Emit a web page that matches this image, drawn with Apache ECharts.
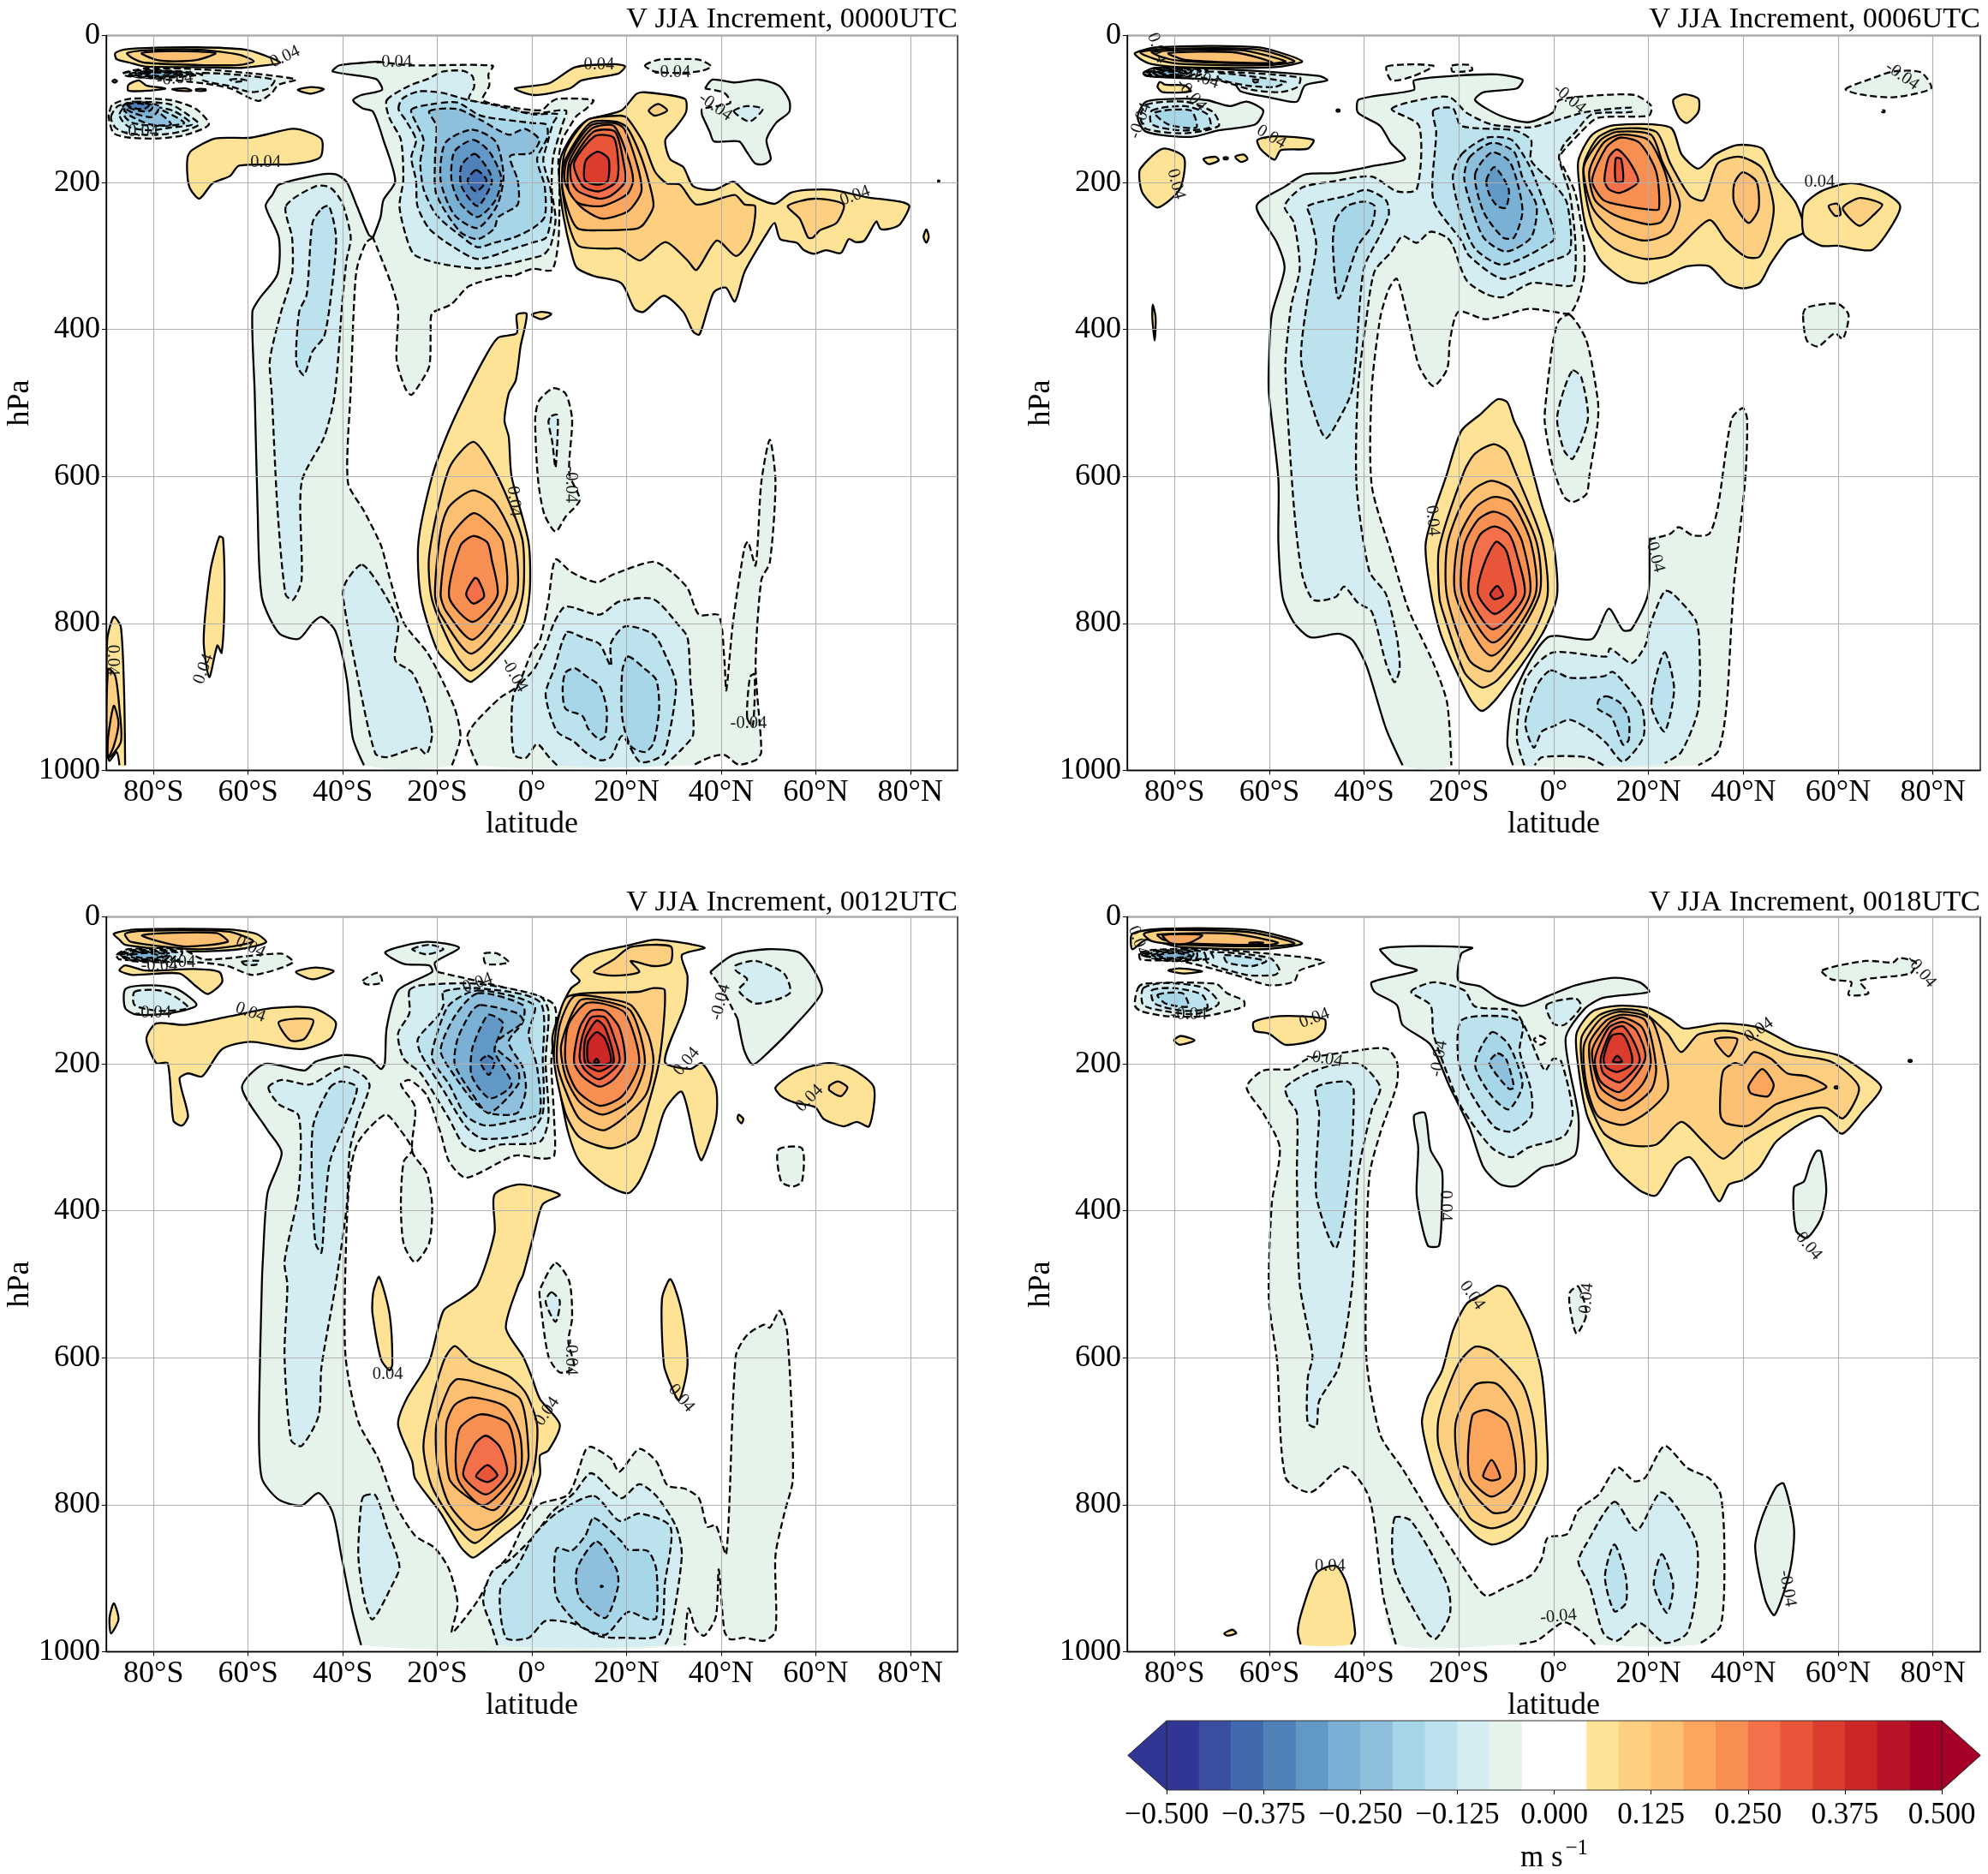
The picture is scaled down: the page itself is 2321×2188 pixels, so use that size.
<!DOCTYPE html>
<html><head><meta charset="utf-8">
<style>html,body{margin:0;padding:0;background:#fff}#c{width:2321px;height:2188px}</style>
<script src="https://cdn.jsdelivr.net/npm/echarts@6/dist/echarts.min.js"></script>
</head><body><div id="c"></div>
<script>
const titles=['V JJA Increment, 0000UTC','V JJA Increment, 0006UTC','V JJA Increment, 0012UTC','V JJA Increment, 0018UTC'];
const latTicks=[-80,-60,-40,-20,0,20,40,60,80];
const negColors=['#ffffff','#e5f3eb','#d3edf3','#bce2ee','#a6d6e8','#8ec0de','#7ab0d3','#6298c6','#4f81b8','#4169ad','#3a4f9f','#313695'];
const posColors=['#ffffff','#fee397','#fdd081','#fdbf71','#fca55d','#f88f52','#f3704a','#e95538','#dc3c2d','#cc2627','#b61326','#a50026'];
const cbLevels=[-0.5,-0.4583,-0.4167,-0.375,-0.3333,-0.2917,-0.25,-0.2083,-0.1667,-0.125,-0.0833,-0.0417,0.0417,0.0833,0.125,0.1667,0.2083,0.25,0.2917,0.3333,0.375,0.4167,0.4583,0.5];
const cbColors=['#313695','#3a4f9f','#4169ad','#4f81b8','#6298c6','#7ab0d3','#8ec0de','#a6d6e8','#bce2ee','#d3edf3','#e5f3eb','#ffffff','#fee397','#fdd081','#fdbf71','#fca55d','#f88f52','#f3704a','#e95538','#dc3c2d','#cc2627','#b61326','#a50026'];

// contour rings: [level, latitude/hPa pairs] or [level, solid-drawn pairs, dashed-drawn pairs]
const contoursA=[
[-1,[-35.5,993,-37.9,955,-39.1,877,-41.5,811,-44.5,791,-46.3,799,-49.3,821,-53.5,813,-57.1,764,-58,643,-58.6,487,-59.1,376,-57.6,358,-53.8,325,-53.5,275,-56.3,232,-54.8,216,-53.5,203,-44.5,189,-41.4,189,-39.2,199,-37,232,-34.5,271,-33.6,275],[-35.1,282,-37,317,-37.6,364,-38.3,481,-38.9,608,-35.5,647,-31.9,694,-30.1,737,-27.1,799,-22.3,838,-19.9,865,-16.3,916,-15.1,955,-16.9,993]],
[-1,[-33.6,275,-32,247,-31.4,224,-28.9,198,-31.4,142,-33.6,103.5,-35.8,99,-37.8,88,-36.1,81,-31.7,74,-33,59,-42.1,49,-40.7,40.5,-35.7,37,-32.6,35.4],[-25.8,40.5,-8.3,41,-9.2,53,-9,68,-10.4,88,-3.9,98,2,101.6,3.9,91,5.5,86,13,88,11.4,100,9.5,109,7.7,127,6.4,142,5.6,170,5.8,200,5.8,247,5.5,286,4.2,319,0,317.5,-3.9,327,-5.9,327,-13.3,341,-17.1,366,-21.1,378,-21.4,403,-21.7,450,-24,477,-25.5,489,-26.7,481,-28.6,442,-28.3,372,-29.8,337]],
[-2,[-30.7,88,-25.8,68,-22,59,-18.9,49,-14.6,48,-12.6,55,-12.2,70,-13.3,86,-8,96,-3,103,1,106,7.2,102,6.5,120,4.5,165,4.2,210,5,250,4,285,2.5,298,0,303,-6,312,-11.5,317,-19.6,310,-24.9,298,-26.7,271,-28,232,-27.2,197,-27.7,142,-30.2,111]],
[-3,[-28.2,100,-27.4,86,-24,76,-19,78,-13.3,88,-7,96,0,107,5.5,107,4.5,119,3.3,146,2.4,170,3.9,208,4.2,240,3,275,0,282,-3.9,290,-11.5,304,-17,286,-21.7,263,-24.2,232,-24.5,197,-25.5,166,-24.5,142,-26.7,115]],
[-4,[-25.5,101,-21.7,94,-15.8,91,-10.8,109,0,119,3,121,3.3,138,1.1,168,2.7,205,2.7,247,0,263,-3.9,275,-8,282,-11.5,288,-14.6,275,-20.2,244,-22.9,209,-23.6,173,-22.9,142,-24.5,119]],
[-5,[-21.7,103,-15.8,100,-10.8,115,-4.9,135,-1.5,127,1.6,142,-0.2,160,-4.6,164,-3,197,-3,230,-7.1,247,-8,263,-11.5,277,-15.2,267,-20.2,216,-20.5,170,-20.2,123]],
[-6,[-12.7,128,-7.7,144,-6,191,-7.4,232,-11.5,262,-16.4,244,-19.3,197,-18.3,146]],
[-7,[-12.4,142,-9,158,-6.5,193,-7.7,224,-11.5,247,-15.2,228,-17,197,-16.4,158]],
[-8,[-12.1,161,-9,185,-8.5,201,-11.5,232,-14.9,205,-14.9,177]],
[-9,[-11.8,183,-9.6,197,-11.8,212,-13.6,197]],
[1,[6.1,166,8.6,135,11.7,115,18.9,102,22,80,23.5,77,32.3,86,32.6,104,30.4,125,28.2,142,29.2,168,32,179,34.1,205,38.5,210,42.6,199,45.4,214,51.3,229,54.7,214,58.4,210,63.4,210,70.9,220,77.8,226,79.8,232,77.8,257,75.6,263,73.7,263,72.8,253,70.3,279,68.4,281,67,277,65.3,296,62.2,292,59.7,297,57.5,292,56,282,52.5,277,51.3,255,49.7,269,45,321,42.9,362,41,343,38.5,349,37,376,35.4,407,34.1,403,32,376,27.9,354,23.6,376,21.7,372,18.9,337,13,327,9.5,316,8.3,294,6.7,247,5.8,201]],
[2,[7,158,11.7,115,18.6,109,20.1,112,23.6,146,26,185,28.5,201,31.3,203,34.8,230,42.9,217,45,230,47.2,232,46.3,275,43.2,300,39.1,279,34.8,319,32.9,306,28.2,281,22.9,306,18.6,290,15.5,290,9.8,286,7.7,255,6.4,205]],
[2,[24.7,102,26.7,93,28.6,102,26,109]],
[2,[54.1,232,59.7,222,65.9,230,64.4,255,60.9,265,59.4,275,58.4,275,56.6,249]],
[3,[7,170,12.3,119,17.6,117,20.1,125,22.9,162,24.8,201,25.7,232,23.6,257,22,263,14.8,265,9.8,263,8,244,6.4,205]],
[4,[7.4,170,12.3,123,17.3,119,19.5,127,22.3,177,23.2,209,22.3,224,20.1,240,14.8,249,10.2,232,7,200]],
[5,[8,170,12.6,127,17.3,123,20.1,162,21.4,197,20.1,216,14.8,232,9.8,228,7.7,209]],
[6,[8.3,174,13,131,17.6,131,19.5,177,19.7,199,16.7,218,14.2,222,9.8,212,8.3,197]],
[7,[8.9,174,13.3,137,17.3,139,18.3,177,17.8,199,14.2,212,10.8,205]],
[8,[11.4,170,13.9,158,16.2,168,16,198,13.9,203,11.2,197]],
[1,[-3.6,72,3.6,65,9.2,43,17.3,39,19.7,42,18.2,52,10.5,61,8,72,0.5,81]],
[-1,[23.9,41,26.7,33,31,32,35.4,33,37.9,42,36,48,31,51,26,49]],
[-1,[36.6,72,38.2,60,42.9,64,47.9,60,52.2,68,54.4,88,54.4,104,51.6,119,49.6,142,50.5,168,49.1,175,47.2,174,45.4,158,43.8,144,38.5,144,37.6,131,36,109],[36,100,41.9,92,40.7,78]],
[-2,[42.7,103,45.4,96,48.8,100,46,117]],
[1,[83.4,264,83.9,274,83.4,282,82.8,274]],
[1,[85.9,197,86.2,198,85.9,199]],
[1,[-88.1,24,-86.2,19,-81.9,17,-70.7,16,-60.7,19,-56.9,26,-53.2,37,-56.9,41,-61.3,44,-70.7,43,-81.9,42,-85,37,-87.8,32]],
[2,[-85.6,24,-81.2,20,-70.7,19,-61.9,26,-58.8,35,-61.9,40,-70.7,40,-81.9,37,-84.4,31]],
[3,[-82.5,24,-75.6,21,-66.9,24,-70.7,33,-75.6,35,-79.4,33]],
[1,[-85.3,67,-83.1,61,-81.5,68,-77.5,72,-80.9,75,-85.3,75]],
[1,[-88.2,60,-87.7,62,-88.2,64,-88.7,62]],
[1,[-76,73,-73,72,-72,75,-75,75]],
[1,[-71,73,-69,73,-69,75,-71,75]],
[1,[-49.5,74,-46.7,70,-44,73,-46.7,79]],
[-1,[-86.5,51,-81.9,45,-69.5,46,-57,53,-49.9,60,-53.6,67,-55,78,-57.9,89,-63.8,72,-69.5,65,-78.8,59,-85.7,55]],
[-2,[-69.5,51,-54.5,60,-55.7,72,-59.4,77,-63.8,69,-69.5,61]],
[-3,[-63.8,60,-62,59,-60.4,61,-62.6,63]],
[-2,[-86.2,51,-81.9,47,-73.7,49,-70,53,-78.8,58,-85,55]],
[-3,[-85,52,-81,48,-75,49.5,-71.5,53,-79,57,-84.5,54.5]],
[-4,[-84,52,-80,49,-75,50,-72.5,53,-79,56,-84,54]],
[-5,[-83,52,-79.5,50,-76,51,-74,53,-79,55.5]],
[-6,[-82,52,-79,50.5,-76,51.5,-75,53,-79,55]],
[-1,[-89.3,103.5,-88.7,94,-85,86,-76.3,88,-71,100,-68.3,121,-73.1,135,-78.8,140,-85,139,-88.4,133,-89.5,111]],
[-2,[-89,111,-87.5,96,-83.1,90,-76.3,94,-72.9,107,-70.4,121,-74.4,131,-79.4,135,-85.6,133,-88.1,125]],
[-3,[-87.2,107,-85.6,94,-80.6,96,-75.6,103,-71.9,121,-76.3,125,-80.6,129,-85,125,-86.5,117]],
[-4,[-86.2,103.5,-83.7,94,-78.8,100,-73.5,119,-79.4,123,-84.4,119,-86,111]],
[-5,[-86.2,100,-82.5,92,-78.8,105,-76.3,121,-80.6,121,-85,109]],
[-6,[-86.5,96,-84.4,90,-78.8,96,-80.3,111,-84.4,105]],
[-7,[-86,95,-84,91,-80,95,-81,103,-84,101]],
[-8,[-85.5,95,-84,92,-81,95,-82,100,-84,99]],
[1,[-72.8,166,-71.9,156,-66.9,140,-59.4,139,-50.7,127,-47,132,-44.4,142,-44.8,166,-50.7,175,-61.9,177,-63.8,191,-67.5,201,-70.3,222,-72.2,209,-72.8,193]],
[-2,[-52,232,-45.7,205,-42.6,207,-40.1,228,-38.3,275,-39.2,306,-40.1,364,-41.7,489,-43.9,546,-48.7,608,-48.7,741,-50.5,768,-52.1,760,-53.8,643,-55,487,-55.4,442,-53.2,380,-50.7,325,-50.7,275]],
[-3,[-44.5,236,-42.9,232,-41.4,275,-42.3,345,-43.9,409,-46.4,430,-48.2,462,-49.8,446,-49.2,376,-47.6,352,-46.4,255]],
[-2,[-35.9,720,-31.9,752,-28.3,799,-28.9,850,-25.3,867,-22.3,912,-21.1,951,-22.3,978,-24.1,969,-30.7,982,-33.1,977,-36.7,877,-40,760,-39.1,741]],
[1,[-66.1,682,-65.3,684,-65,768,-65.6,840,-66.5,830,-68.2,873,-69.4,823,-68,729]],
[1,[-88.4,791,-86.9,805,-86.2,897,-86,993,-87.2,993,-87.8,975,-89.3,987,-89.8,975,-89.8,823]],
[2,[-89.6,862,-88.1,871,-87.2,916,-86.9,961,-89.6,982]],
[3,[-89.6,955,-88.4,912,-87.4,936,-88.4,967,-89.6,982]],
[1,[-3.2,380,-1.1,379,-2.4,423,-3.4,469,-4.9,487,-5.8,524,-4.9,546,-4.3,600,-0.7,690,-0.5,760,-2.2,807,-12.7,879,-16.3,862,-19.9,838,-23.5,764,-24,690,-21.1,600,-18.1,546,-14.5,495,-9.6,434,-7.1,411,-3.2,405]],
[1,[0,380,2,376,4.1,379,2,386]],
[2,[-12.4,553,-8.5,585,-4.3,643,-1.9,690,-1.9,760,-4.3,807,-12.7,864,-16.3,840,-21.1,768,-21.7,706,-17.5,589]],
[3,[-12.5,619,-7.9,635,-3.7,690,-3.4,764,-12.7,841,-19.3,788,-20.5,760,-19.3,674,-17.5,641]],
[4,[-12.4,650,-8.5,667,-6.1,690,-5.5,760,-12.5,822,-18.1,784,-19.3,760,-17.5,686]],
[5,[-12.4,681,-9.4,690,-8.5,713,-7.3,762,-12.5,798,-17.5,764,-15.1,694]],
[6,[-12.1,738,-11.3,741,-10.1,763,-12.4,773,-13.9,760]],
[-1,[4.5,480,7.1,487,8.5,522,7.9,596,10.1,632,7.1,655,5,675,2.6,651,1.3,604,0.7,522,1.5,497]],
[-2,[4.1,518,5.3,516,5.5,530,5,588,4.3,553,3.5,525]],
[-1,[5,713,8.3,730,13.7,744,17.3,733,25.7,716,29.3,729,32.9,752,35.3,788,39.5,789,40.7,850,41.1,891,42.5,799,44.9,698,45.7,689,47.3,721,48.5,608,50.3,550,51.5,608,50.3,717,48.5,741,47.3,858,48.5,975,47.3,986,43.7,992,40.7,979,37.7,982,34.1,993,-11.5,993,-13.7,955,-12.1,936,-6.7,901,-3.1,885,-0.1,840,1.7,823,3.5,768]],
[-1,[45.5,928,46.1,873,47.1,869,46.7,940]],
[-2,[7.1,777,14.3,788,18.5,770,25.7,767,31.1,803,32.9,819,33.5,877,34.1,951,31.7,971,28.1,993,5.3,993,3.5,981,1.1,964,-1.3,983,-3.7,979,-4.3,936,-3.7,893,0.5,862,2.9,830,4.7,799]],
[-3,[7.4,812,10.7,819,14.3,828,16.7,858,16.7,827,19.7,804,25.7,815,28.7,850,30.5,885,28.1,975,25.7,986,22.7,988,19.1,953,16.7,982,14.3,986,11.3,975,8.9,961,5.3,947,2.9,897,4.7,862]],
[-4,[7.1,867,9.1,861,11.3,871,14.3,885,15.8,916,15.5,953,14.3,958,11.9,943,10.7,926,7.1,916,6.5,889]],
[-4,[20.3,845,23.9,862,26.3,877,26.9,916,25.7,963,23.9,975,20.9,967,19.1,928,19.1,865]]
];
const labelsA=[[-52.2,29,'0.04',25],[-29.2,36,'-0.04',0],[14.2,40,'0.04',0],[29.7,50,'-0.04',0],[38.8,97,'-0.04',-35],[-75.5,59,'-0.04',5],[-82.8,131,'-0.04',0],[-56.3,173,'0.04',0],[68.3,218,'0.04',20],[-3.8,634,'0.04',-85],[8.3,611,'-0.04',-90],[-69.4,862,'0.04',70],[-88.7,850,'0.04',-90],[-3.8,870,'-0.04',-60],[45.8,936,'-0.04',0]];

const contoursB=[
[-1,[-31.9,993,-35.4,943,-39.5,858,-42.4,823,-45.4,814,-51.3,819,-54.8,799,-57.2,764,-58.1,690,-58.1,604,-60.1,487,-60.1,446,-59.5,380,-56.8,317,-58.4,282,-62.7,232,-56.6,205,-52.5,189,-46,187,-37.8,177,-31.4,168,-34.4,146,-36.6,123,-41.3,105,-41.1,87,-29.5,74,-29.5,61,-21.3,55,-11.9,53,-6.6,60,-7.8,72,-14.8,77,-16.6,88,-11.3,109,-5.4,118,-1.3,109,0,104],[1.1,88,8,82,17.1,81,20.6,96,20,109,9.3,112,5.8,131,1.1,166,2.2,181,4.6,216,6.4,286,6.4,325,5.2,358,3.4,378,0,376,-5.4,372,-14.2,386,-20.1,376,-21.9,415,-22.5,454,-25.4,477,-28.4,450,-30.7,388,-33.1,331,-34.8,345,-36.6,384,-38.4,481,-38.4,612,-34.2,706,-30.7,780,-25.4,854,-22.5,908,-21.6,993]],
[-1,[-35.2,42,-25.4,41,-29.5,55,-34.2,61]],
[-1,[-21.5,41,-17.8,40,-17.2,47,-21.3,49]],
[-2,[-34.2,100,-27.2,86,-21.9,84,-18.4,105,-13.1,121,-5,125,-1.3,119,6.9,104,16.4,98,16.4,104,8.1,107,4.6,131,2.2,148,1.1,166,3.4,216,4.6,286,4,339,0,339,-4.8,337,-10.7,356,-14.2,352,-18.4,333,-21.3,286,-22.5,275,-26,267,-28.9,282,-31.9,273,-34.2,294,-37.8,321,-39.5,384,-41.3,481,-41.6,612,-38.9,729,-35.4,760,-33.1,819,-32.5,862,-33.6,880,-35.4,854,-38.4,784,-41.3,772,-44.2,750,-46,764,-50.7,768,-53.1,733,-54.8,643,-56.4,487,-56.6,442,-55.4,368,-53.6,317,-54.8,255,-56.8,232,-53.1,207,-47.2,199,-38.4,192,-33.1,212,-28.9,209,-28.4,123]],
[-3,[-25.4,102,-21.3,99,-19.5,123,-8.4,129,-4.8,142,-4.8,170,-0.1,201,2.8,228,3.4,294,-1.3,308,-10.7,331,-17.8,300,-19.5,279,-25.4,224,-24.8,131]],
[-3,[-51.9,232,-43.6,218,-39.5,210,-35.4,224,-34.8,244,-36.6,271,-40.1,318,-42.5,481,-46,530,-48.1,548,-50.1,522,-53.3,442,-51.9,356,-50.1,286,-51.3,247]],
[-4,[-46,251,-43.6,232,-40.1,226,-37.8,232,-38.4,259,-41.3,286,-45.4,358,-46.6,286]],
[-4,[-19.5,162,-14.2,139,-8.9,142,-5.4,174,-3.1,209,-0.1,263,-0.1,279,-10.7,312,-16.6,290,-19.5,247,-21.3,193]],
[-5,[-17.8,166,-13.1,146,-8.4,158,-6.6,193,-3.6,232,-4.8,275,-10.1,294,-14.8,275,-17.8,224,-18.9,193]],
[-6,[-16.6,189,-13.1,159,-9.5,170,-7.8,197,-6.6,240,-8.4,275,-10.7,275,-14.8,240]],
[-7,[-14.2,197,-12.5,179,-9.5,209,-10.1,234,-11.9,232,-13.6,216]],
[1,[5.2,170,8.1,135,12.8,122,24.6,125,27,162,30.5,181,34,162,38.7,149,44,154,46.9,193,51.1,228,52.8,267,49.3,279,45.8,310,43.4,337,39.9,344,36.4,337,32.8,314,28.1,314,24,325,19.3,337,15.2,333,9.9,306,6.9,263,5.5,209]],
[1,[52.8,232,56.4,212,62.8,201,69.3,212,73.1,232,70.5,267,67,292,59.9,286,56.4,286,52.8,271]],
[2,[58,232,59.9,229,60.5,244,59.3,245]],
[2,[61,234,64.6,221,69.3,230,67.5,244,64.6,259,62.2,247]],
[2,[6.4,174,9.3,139,13.4,127,21.6,131,24.6,174,28.7,218,31.6,224,34.6,174,39.3,165,44,181,46.4,232,45.5,271,43.4,301,40.5,301,36.4,279,32.8,251,24.6,298,19.3,304,12.8,290,8.7,263,6.7,216]],
[3,[6.4,177,9.9,142,13.4,131,20.5,135,22.8,170,26.6,228,24.6,267,19.3,279,13.4,267,8.7,240,6.9,209]],
[3,[38.1,201,39.9,186,42.8,199,43.2,236,41.1,255,38.1,228]],
[4,[7.5,185,10.5,146,14,135,19.9,142,23.4,185,24.6,228,22.8,253,19.9,257,12.8,244,8.7,224]],
[5,[8.1,197,11.1,152,14,139,18.1,146,21.6,185,22.2,236,20.5,237,15.2,232,10.5,224]],
[6,[10.7,197,11.6,166,13.4,155,15.8,170,17.8,199,14,214,11.6,209]],
[7,[13.1,167,14.2,168,14.6,198,13.1,199]],
[1,[25.2,88,27.5,80,30.5,86,30.5,104,28.1,119,26.4,111]],
[-1,[61.6,73,66.9,59,71.6,49,77.5,50,79.6,72,71.6,84,64.6,80]],
[-1,[69.3,102,69.8,102,69.8,104,69.3,104]],
[-1,[52.6,380,53.4,370,59.9,365,62.2,380,61,413,59.3,405,55.8,423,53.4,415]],
[1,[-88.4,24,-83.6,16,-62.5,16,-53.1,35,-58.9,43,-78.9,43,-84.8,39,-87.2,32]],
[2,[-87.2,23,-81.3,18,-62.5,19,-54.7,35,-60,40,-77.8,39,-83.6,33]],
[2,[-84.8,22,-66,20,-56.6,35,-60,38,-77.8,35,-82.5,30]],
[3,[-81.3,24,-67.2,23,-59.5,37,-77.8,33]],
[-1,[-86.6,51,-84.2,44,-69.5,46,-49.5,55,-47.8,61,-52.5,68,-54.2,90,-60.1,84,-66,76,-67.8,63,-81.3,57,-86,55],[]],
[-2,[-73.1,49,-53.6,57,-54.1,70,-57.8,77,-63.6,74,-69.5,63,-75.4,55]],
[-3,[-70.7,51,-56.6,63,-58.9,70,-64.8,68,-70.7,59]],
[-4,[-63.6,60,-61.9,61,-63,64]],
[-2,[-86.6,51,-83.6,45,-73.1,47,-75.4,55,-84.8,56]],
[-3,[-86,51,-83.4,46,-74.5,48,-76.5,54,-84.5,55.5]],
[-4,[-85.4,51,-83.1,47,-76.6,49,-77.8,53,-84.2,55]],
[-5,[-84.5,51,-82,48,-77.5,50,-79,53,-83.5,54]],
[-6,[-83.6,51,-81.3,49,-78.4,51,-81.3,53]],
[1,[-83.1,63,-81.9,67,-77.8,68,-76.6,76,-82.5,77,-83.6,70]],
[-1,[-86,90,-78.9,86,-73.1,88,-68.4,96,-64.8,90,-61.3,102,-63,121,-70.7,129,-76.6,138,-86,131,-87.8,111],[]],
[-2,[-86,94,-77.8,90,-71.9,104,-70.7,123,-77.8,133,-86,127,-87.2,111]],
[-3,[-84.8,102,-77.8,96,-73.1,107,-72.5,125,-78.9,129,-84.8,121]],
[-4,[-84.2,105,-76.6,102,-75.4,125,-81.3,121]],
[1,[-62.5,142,-58.9,137,-50.7,142,-51.9,154,-57.6,156,-58.9,169,-61.9,154]],
[1,[-87.2,181,-82.5,154,-78,166,-78.9,209,-83.6,234,-86.6,216,-87.4,197]],
[1,[-73.9,168,-71.3,165,-70.7,170,-72.8,175]],
[1,[-67.2,165,-65.4,162,-64.6,168,-66,172]],
[1,[-69.6,166,-68.8,166,-68.8,168,-69.6,168]],
[1,[-45.8,101,-45.2,101,-45.2,103,-45.8,103]],
[1,[-84.6,366,-84,384,-84.2,415,-84.7,384]],
[1,[-11.9,495,-9.8,499,-8.4,524,-6.2,554,-2.5,639,-0.1,690,0.7,762,-2.5,815,-11.9,901,-15.2,919,-17.8,901,-23.6,819,-25.8,762,-27,690,-22.5,596,-19.5,538,-15.4,515]],
[2,[-12.7,556,-10.1,565,-8.4,589,-2.5,686,-1.3,762,-4.8,819,-11.9,877,-15.2,887,-18.9,866,-23.6,780,-24.2,760,-24.2,698,-18.9,593,-16.6,569]],
[3,[-13.1,606,-8.9,618,-3.6,690,-3.1,762,-13.1,864,-17.8,850,-22.5,764,-22.5,694,-19.5,639,-16.6,616]],
[4,[-12.8,628,-8.9,635,-4.8,690,-3.9,762,-13.1,844,-20.7,762,-20.1,686,-16.6,643]],
[5,[-12.8,648,-9.5,657,-6.6,690,-5.1,762,-12.8,826,-19.3,762,-18.9,694,-16,659]],
[6,[-12.5,668,-9.5,678,-7.8,706,-6.2,762,-12.8,808,-17.8,762,-17.2,706,-15.4,678]],
[7,[-12.2,689,-10.1,700,-8.9,729,-8.1,762,-12.5,787,-16,760,-14.8,721]],
[8,[-11.9,749,-10.7,762,-12.5,767,-13.4,760]],
[-1,[3.4,380,6.9,415,9.3,496,9.3,526,7.5,600,6.9,624,4,635,2.2,628,-0.1,589,-1.9,526,-1.5,487,-0.1,415,1.1,388]],
[-2,[4,456,5.8,465,7.2,522,4,576,2.2,565,0.7,522,2.2,481]],
[-1,[-8.6,993,-9.8,963,-8.4,897,-1.3,819,8.1,821,11.6,780,14.6,809,16.4,808,19.9,760,20.1,686],[24.6,678,26.4,669,29.3,680,32.8,678,34.6,643,37.5,522,39.9,507,40.8,522,40.4,604,38.1,741,37.5,799,36.4,916,34.6,975,30.5,993]],
[-2,[23.4,756,25.2,760,29.9,795,30.7,823,30.5,916,26.9,975,23.4,990,20.5,993,10.5,993,6.9,982,-2.5,982,-4,993,-6.2,993,-7.8,955,-6,877,-0.4,840,11.1,845,11.9,834,16.4,854,19.3,830,20.5,799]],
[-3,[-0.7,864,3.4,874,10.5,872,12.5,866,16.4,893,18.7,916,18.9,955,14.6,988,11.1,963,8.1,947,3.4,931,-0.1,940,-2.5,947,-4.2,969,-6,936,-3.6,885]],
[-4,[11.1,899,14,908,15.8,928,15.8,959,14.6,965,12.2,928,9.3,916,9.5,904]],
[-3,[23.4,839,25.4,889,23.4,947,20.7,916,21.1,885]]
];
const labelsB=[[-83.7,17,'0.04',-70],[-73.8,59,'0.04',-20],[-76.5,81,'-0.04',-50],[-87.2,116,'-0.04',70],[-59.6,138,'0.04',-30],[-79.7,202,'0.04',-75],[3.3,86,'-0.04',-40],[73.5,55,'-0.04',-35],[56.1,200,'0.04',0],[-25.6,660,'0.04',-85],[21.3,706,'-0.04',-75]];

const contoursC=[
[-1,[-36.1,991,-37.9,947,-40.3,869,-42.1,811,-45.1,784,-48.7,801,-53.5,793,-57.1,764,-57.7,691,-57.1,501,-56.9,469,-55.9,376,-52.9,321,-55.9,290,-61.3,232,-56.5,200,-48.1,209,-45.7,197,-39.7,188,-34.3,193,-31.9,207,-31.1,199,-30.7,151,-28.3,100,-21.1,75,-21.7,66,-27.1,64,-31,48,-22.3,34,-15.4,42,-20.5,62,-19.9,75],[-14.5,83,-5.5,97,4.7,120,4.1,197,4.7,275,4.7,325,2.3,329,-3.7,325,-13.9,355,-17.5,333,-19.3,294,-22.3,242,-25.9,222,-27.7,228,-24.7,259,-25.3,319,-22.3,348,-21.1,391,-21.7,443,-24.7,470,-27.1,445,-27.7,391,-27.1,333,-25.3,317,-28.3,286,-31,269,-36.7,306,-38.5,352,-39.4,469,-39.4,598,-36.7,687,-32.5,737,-28.9,799,-24.7,842,-20.5,859,-17.5,888,-15.7,935,-16.9,974,-11.5,931,-8.5,896,-4.9,869,-1.3,822,1.7,799,7.7,786,11.3,726,12.5,721,16.7,737,18.5,755,22.7,724,26.3,741,28.7,774,32.3,778,35.3,791,37.1,830,38.9,828,41.1,867,43.1,598,45.5,569,49.1,555,50.3,559,52.4,536,54,567,55.2,764,53.4,811,51.5,869,51.5,972,49.1,985,44.9,981,41.9,983,40.7,972,39.5,888,38.9,952,36.5,978,34.7,970,33.1,941,32.3,991]],
[-2,[-25.3,44,-21.7,38,-18.7,44,-22.3,51]],
[-2,[-25.9,100,-23.5,93,-11.5,91,1.7,108,3.5,128,2.9,197,3.5,275,1.7,306,-6.7,310,-11.5,319,-14.5,310,-17.5,275,-23.5,213,-27.1,193,-28.3,159,-25.9,131]],
[-3,[-18.7,102,-11.5,97,1.7,116,2.3,197,2.3,267,-0.7,294,-10.3,302,-13.9,286,-18.7,236,-23.5,186,-24.1,166,-19.9,135,-18.7,120]],
[-4,[-11.5,100,0.5,120,-0.7,159,1.1,205,1.7,267,-1.9,275,-9.7,284,-13.9,271,-17.5,228,-21.1,193,-20.2,162,-17.5,120]],
[-5,[-11.5,104,-1.9,120,-1.9,143,-4.9,170,-1.9,205,-1.3,236,-3.1,267,-9.1,267,-12.7,248,-16.3,217,-19.3,182,-16.3,135]],
[-6,[-10.9,120,-3.1,131,-1.9,143,-7.9,174,-3.1,205,-2.9,228,-9.1,267,-12.7,240,-16.3,201,-15.7,166,-12.7,128]],
[-7,[-9.1,133,-6.1,145,-7.9,182,-4.3,228,-8.9,247,-12.7,217,-12.7,182,-10.9,151]],
[-8,[-9.4,189,-7.9,197,-9.1,215,-10.9,197]],
[1,[8.3,73,11.9,52,20.9,38,26.3,31,36.5,42,31.7,52,32.9,81,32.3,120,28.1,197,33.5,207,35.9,199,38.9,232,38.9,275,35.9,331,34.7,314,31.7,238,28.1,263,25.7,314,22.7,360,20.3,376,15.5,364,10.1,333,7.7,294,5.9,236,4.3,166,6.5,120,8.3,97,10.1,87]],
[2,[13.1,75,17.3,58,20.9,41,29.3,40,29.3,62,25.7,67,20.9,60,22.7,75,17.3,80]],
[2,[7.7,108,22.7,102,25.7,97,28.1,100,26.9,197,23.9,271,22.1,300,16.7,315,10.1,300,7.1,267,4.7,197,5.3,147]],
[3,[8.9,108,14.9,110,20.9,120,24.5,159,25.7,197,23.9,244,15.5,290,10.1,275,7.1,236,5.3,197,5.9,147]],
[4,[10.1,114,14.9,114,20.9,128,23.9,197,20.9,248,14.9,269,10.1,252,7.1,217,6.2,174]],
[5,[11.3,118,14.9,118,19.7,131,22.7,197,19.1,244,14.3,257,9.5,236,7.1,197,7.7,147]],
[6,[12.5,128,15.5,128,18.5,151,19.7,197,17.3,221,14.3,231,10.7,217,8.9,197,10.1,151]],
[7,[12.5,137,15.5,137,17.3,162,18.5,197,14.3,221,11.3,209,10.1,193,10.7,162]],
[8,[13.7,141,15.5,151,17.3,197,14.3,210,11.3,199,11.3,166]],
[9,[13.7,157,15.5,166,16.7,197,13.7,202,11.9,197,11.9,170]],
[10,[13.7,193,14.2,198,13.1,198]],
[-1,[37.7,75,42.5,52,49.7,44,56.3,48,59.3,69,61.3,102,55.7,147,49.7,186,46.7,201,44.9,182,43.5,139],[40.1,97]],
[-2,[43.1,66,47.3,60,53.3,77,54.5,104,47.3,118,43.7,100,45.5,85,43.1,73]],
[1,[43.7,269,44.7,275,44.3,281,43.5,275]],
[-1,[52.1,317,57.1,315,57.1,360,55.1,367,52.7,360]],
[1,[51.5,232,56.3,209,62.9,199,67.7,207,72.3,232,71.3,285,68.7,279,65.9,285,61.7,275,59.9,259,55.7,253,52.7,244]],
[2,[62.9,230,64.7,224,66.7,232,65.3,244,62.9,236]],
[-1,[-10.1,50,-7.3,50,-4.9,62,-9.7,64]],
[-1,[-35.8,87,-32.5,76,-31.7,89,-34.9,92]],
[1,[-88.4,23,-83.6,17,-64.3,17,-58.3,23,-56.2,34.5,-61.9,44,-72.7,47,-86,38,-87.2,31]],
[2,[-86,23,-82.4,19,-64.3,20,-58.9,33,-63.1,40,-71.5,44,-84.8,34]],
[3,[-82.4,25,-66.7,22,-64.3,34,-73.9,40]],
[-1,[-87.8,52,-85.4,44,-74,44,-69.2,58,-53,50,-50.5,62,-58.9,79,-64.3,67,-70.3,62,-87.2,58]],
[-2,[-87.2,51,-84.8,45,-74,47,-75.2,60,-84.8,60]],
[-3,[-87,51.5,-84.2,46,-75,48.5,-76.5,59,-84.5,59]],
[-4,[-86.6,52,-83.6,47,-76.4,50,-77.6,58,-84.2,58]],
[-5,[-85.5,52,-82.5,48,-77,51,-79,57,-83.5,57]],
[-6,[-84.8,52,-81.2,49,-78.2,54,-82.4,56]],
[-2,[-61.3,61,-57.7,60,-58.3,65,-60.7,65]],
[1,[-87.2,73,-86,66,-81.7,73,-71.5,71,-66.1,75,-65.5,89,-68.5,105,-70.9,95,-74.5,77,-84.4,79]],
[1,[-49.9,75,-45.7,69,-41.9,74,-46.3,85]],
[-1,[-85.9,98,-80.5,93,-75.1,98,-70.9,120,-76.4,131,-83.6,133,-86,124],[]],
[-2,[-84,102,-78.8,100,-75.1,110,-72.7,124,-78.8,128,-84,120]],
[1,[-81.5,166,-79.4,145,-73.4,147,-63.7,135,-54.7,124,-46.3,124,-41.5,143,-42.7,166,-48.7,180,-59.5,170,-65.5,180,-69.7,217,-72.7,213,-74.5,220,-72.7,271,-74,284,-75.8,277,-77,199,-79.4,199]],
[2,[-53.5,143,-46.3,140,-48.1,166,-51.1,168]],
[-2,[-55.7,232,-52.9,222,-46.9,228,-39.7,204,-35.5,217,-34.3,230,-36.7,275,-38.5,317,-39.1,391,-41.5,501,-44.5,613,-45.1,679,-48.7,720,-50.9,712,-52.3,598,-51.7,501,-52.3,469,-49.3,372,-49.3,271,-53.5,255]],
[-3,[-42.7,232,-40.3,224,-37,232,-39.1,275,-42.7,333,-43.9,410,-44.5,457,-45.7,445,-46.3,391,-46.3,286]],
[-2,[-35.5,788,-33.1,787,-30.7,830,-28,884,-29.6,910,-33.7,956,-35.5,927,-36.7,869,-36.1,799]],
[1,[-32.3,490,-30.1,540,-29.5,609,-30.1,617,-31.9,602,-33.7,540,-33.7,520,-33.4,507]],
[1,[29.3,493,31.7,538,32.9,609,31.1,658,29.3,636,27.9,609,27.5,520]],
[1,[-7.9,378,-2.5,364,5.9,378,2.3,391,0.5,430,-1.9,488,-2.9,501,-5.5,559,-1.9,598,-0.1,625,1.7,656,5.9,691,3.5,726,1.7,733,1.7,760,-1.9,819,-6.1,842,-10.3,863,-12.5,872,-15.1,857,-19.3,811,-24.7,764,-25.3,741,-28.3,691,-26.5,656,-21.7,605,-18.7,536,-15.1,520,-11.5,501,-7.9,430]],
[2,[-16.3,584,-12.7,605,-4.9,625,-1.3,648,1.1,691,0.5,749,-1.9,795,-7.9,830,-12.1,852,-16.3,826,-21.1,776,-22.9,726,-22.3,691,-18.7,605]],
[3,[-15.7,629,-10.3,636,-2.5,656,-0.7,733,-1.9,764,-6.1,815,-12.1,834,-17.5,799,-19.9,749,-20.2,691,-17.5,640]],
[4,[-12.7,654,-5.5,667,-2.5,706,-2.5,757,-7.9,807,-13.9,788,-17.5,764,-18.1,691,-16.3,664]],
[5,[-10.9,677,-4.9,691,-3.7,757,-10.3,801,-15.7,764,-15.4,698]],
[6,[-9.7,706,-6.7,722,-5.3,758,-9.7,786,-14.5,760,-12.1,718]],
[7,[-9.4,746,-7.3,760,-9.4,769,-11.8,761]],
[-1,[5,471,7.9,496,8.5,546,7.7,578,8.9,613,5.9,620,3.5,598,1.7,520,1.7,507]],
[-2,[4.1,511,5.9,523,5,551,2.9,524]],
[-2,[12.5,757,17.3,784,19.1,791,22.7,772,26.3,788,30.5,830,31.7,869,29.3,974,28.1,991,-7.3,991,-8.5,966,-10.3,931,-8.5,892,-4.3,873,0.5,842,4.1,811,8.9,784]],
[-3,[13.1,788,18.5,822,22.7,812,29.3,830,28.1,908,26.9,977,19.1,981,14.3,979,8.9,962,2.9,958,-0.7,981,-5.5,981,-6.7,915,-3.1,884,0.5,841,5.3,811]],
[-4,[13.1,818,19.1,851,20.3,861,24.5,863,26.3,888,26.3,954,24.5,956,20.3,946,15.5,977,10.1,964,5.3,927,4.7,888,5.3,859,8.3,863,11.3,842]],
[-5,[13.7,850,17.9,888,18.2,912,15.5,954,10.1,927,9.5,888]],
[-6,[14.6,910,15,911,14.6,912]],
[1,[-88.4,934,-87.4,956,-89,975,-89.3,954]]
];
const labelsC=[[-59.5,41,'0.04',-25],[-78.8,67,'-0.04',0],[-75,62,'-0.04',0],[-80.1,131,'-0.04',0],[-59.5,130,'0.04',-20],[-11.5,90,'0.04',20],[39.9,116,'-0.04',75],[32.7,197,'0.04',50],[58.7,247,'0.04',45],[-30.5,623,'0.04',0],[8.3,599,'-0.04',-90],[31.6,655,'0.04',-50],[3.2,673,'0.04',55]];

const contoursD=[
[-1,[-64.8,232,-61.3,209,-55.4,207,-51.9,193,-43.6,184,-35.4,179,-33.1,197,-33.1,228,-36.6,294,-38.9,352,-39.5,469,-39.5,603,-36.6,705,-31.9,751,-24.8,827,-16.6,909,-14.2,924,-10.7,914,-4.8,896,-2.5,873,-1.3,845,2.8,840,5.2,807,9.5,786,13.4,749,17,768,19.3,763,23.4,720,28.2,750,32.8,764,35.2,786,36,858,35.2,965,30.5,990,8.7,990,6.9,978,2.2,960,-3.6,985,-7.8,990,-33.3,990,-36,924,-38.9,791,-44.2,748,-51.3,783,-56.6,763,-58.4,603,-60.1,521,-59.5,391,-57.8,314,-61.3,267]],
[-2,[-56.6,232,-51.9,213,-46,201,-40.7,201,-36.6,232,-38.4,263,-41.3,352,-42.5,500,-45.4,613,-49.5,659,-50.1,694,-51.9,689,-51.9,628,-50.9,597,-53.6,500,-54.2,352,-54.2,267,-56,248]],
[-3,[-50.1,232,-43.6,224,-42.2,236,-43.1,352,-46,451,-50.1,379,-49.5,267]],
[-2,[-33.6,818,-30.1,822,-22.5,909,-21.9,949,-24.8,982,-26.6,975,-33.6,888]],
[1,[-50.1,893,-46,883,-43.6,909,-41.9,975,-42.8,990,-53.4,990,-54,972,-53.1,944]],
[1,[-69.5,975,-67.8,970,-67,975,-69,978]],
[-1,[-36.6,44,-30.7,40,-17.2,42,-19.5,50,-20.1,87,-15.4,95,-11.9,110,-6.6,121,-1.3,108,4.6,93,12.8,83,18.1,89,20.1,102,10.5,110,6.4,126,2.5,166,5.2,271,4.6,323,1.1,336,-2.5,341,-7.8,366,-11.3,364,-14.8,341,-17.8,286,-21.9,232,-26,174,-31.9,147,-33.1,120,-37.8,102,-38.4,89,-28.9,73,-33.6,64,-35.4,54],[]],
[-2,[-30.1,102,-25.4,89,-18.9,100,-16.6,122,-8.4,128,-6,151,-1.9,209,-0.1,193,1.6,197,4,267,2.2,298,-5.4,314,-8.9,327,-13.1,314,-19.5,259,-22.5,213,-25.4,159,-26,120]],
[-2,[-1.5,120,4.6,111,5.8,122,2.2,147,-0.1,145]],
[0,[-2.9,162,-1.5,168,-2.7,174,-4.2,167]],
[-3,[-19.5,141,-11.3,135,-6.6,145,-7.2,182,-4.8,236,-4.8,271,-8.9,292,-12.5,286,-17.8,236,-20.1,197]],
[-4,[-13.1,157,-9.5,174,-6.6,228,-9.5,262,-13.1,244,-16.6,201]],
[-5,[-11.9,186,-10.1,193,-8.4,232,-9.5,234,-13.6,199]],
[1,[4.8,159,8.1,129,13.4,121,19.9,124,24.6,139,27.5,152,35.2,145,43.4,151,51.1,176,59.9,188,65.2,209,69.1,232,65.2,265,60.8,295,56.4,271,52.2,281,46.9,306,43.4,341,39.9,358,37,364,34.9,387,31.6,352,28.7,327,25.8,337,21.6,379,18.1,372,12.8,341,9.3,302,6.9,267,5.2,205]],
[2,[5.8,166,9.3,135,13.4,126,18.7,129,24,159,26.9,184,30.5,160,36.4,155,41.1,162,49.3,186,58.5,197,64.4,232,61.1,274,57.5,260,52.8,263,46.9,279,39.9,306,35.8,329,31.6,306,26.9,279,21.6,310,15.2,310,10.5,294,6.9,240]],
[3,[6.4,174,9.9,139,14,129,20.5,139,23.4,197,24,236,19.9,265,14.6,283,9.3,271,6.9,228]],
[3,[35.8,209,38.1,199,39.9,201,42.2,184,45.8,193,49.3,213,53.4,217,57.5,232,46.9,255,41.1,284,36.4,281,35.2,271,35.2,236]],
[3,[34,167,38.7,166,36.9,190]],
[4,[44,207,46.4,228,45.2,244,41.6,240,41.1,230]],
[4,[7.5,174,11.1,141,14.6,133,19.3,141,21.6,205,20.5,236,14.6,263,9.3,244]],
[5,[8.1,182,11.6,145,14.6,137,18.7,151,20.5,197,18.7,228,14.6,250,9.9,232]],
[6,[8.7,193,11.6,151,14.6,143,17.5,155,19.3,193,14,238,9.9,224]],
[7,[9.9,193,12.2,155,14.6,149,16.9,170,18.1,197,14,225,10.5,213]],
[8,[10.5,193,12.2,162,14.6,160,16.4,186,16.4,201,13.4,211,11.1,205]],
[9,[13.4,189,14.4,197,12.5,197]],
[1,[59.3,231,60,231,60,233,59.3,233]],
[1,[74.9,195,75.5,195,75.5,197,74.9,197]],
[-1,[56.6,73,65.8,60,71.6,62,72.8,56,76.4,62,75.2,77,64.6,87,66.4,104,62.2,106,62.8,89,58.6,85]],
[-1,[55.4,319,56.4,319,57.5,372,56.4,410,53.4,437,51.1,426,50.7,368,52.8,360,54,337],[]],
[-1,[-29.5,271,-27.2,267,-26,317,-23.6,345,-23.6,391,-24.2,447,-26.6,447,-28.9,380,-28.6,314],[]],
[1,[-63.3,143,-57.8,135,-48.4,139,-48.4,155,-50.7,168,-56.6,174,-60.1,159,-63.1,155]],
[1,[-80.1,168,-78.7,162,-75.8,168,-78.9,174]],
[1,[-81.3,73,-78.9,70,-74.2,74,-78.3,77]],
[1,[-88.9,44,-88.9,23,-81.3,16,-63.6,18,-53.1,36,-61.3,44,-78.9,41,-86,31]],
[2,[-86.5,23,-82.4,18,-64.1,21,-54.7,36,-60.1,40,-77.8,38,-84.8,33]],
[3,[-83.6,24,-67.7,23,-58.2,35,-60.1,38,-77.2,36,-82.4,31]],
[4,[-82.5,25,-74.2,25,-77.2,36,-80.7,36]],
[5,[-64.2,35,-61.3,35,-61.9,37,-64.2,37]],
[-1,[-87.2,48,-73.1,44,-54.2,54,-48.4,61,-53.6,73,-54.8,88,-60.1,93,-67.2,79,-78.9,60,-87.2,58]],
[-2,[-73.1,48,-59.9,56,-57.8,73,-58.9,79,-64.8,79,-73.1,62]],
[-3,[-69.5,52,-60.7,60,-63.6,67,-68.9,62]],
[-2,[-87.2,51,-84.8,45,-73.1,45,-71.9,56,-81.3,60]],
[-3,[-86.6,51.5,-84,46,-74,47,-73.5,56,-82,59]],
[-4,[-86,52,-83.1,47,-75.4,48,-75.4,56,-82.5,58]],
[-5,[-84.8,52,-81.5,48,-76,50,-76.5,55,-82,57]],
[-6,[-83.6,52,-80,49,-76.6,53,-81.3,56]],
[-1,[-87.8,98,-86.6,91,-71.3,91,-68.9,104,-65.4,114,-65.4,122,-73.6,135,-81.9,135,-87.2,128,-88.4,120]],
[-2,[-86.6,97,-81.9,90,-73.6,97,-70.7,118,-75.4,132,-81.3,129,-86.6,120]],
[-3,[-84.8,100,-80.1,97,-74.2,106,-73.1,124,-77.8,128,-84.2,118]],
[-4,[-83.6,106,-78.3,104,-77.1,122,-81.9,118]],
[1,[-11.9,502,-9.8,506,-6.6,541,-4.8,567,-2.5,623,-1.5,705,-1.5,763,-6,827,-9.5,847,-13.1,854,-16.6,842,-22.5,796,-25.4,756,-27.8,689,-26.6,654,-23.6,618,-21.2,562,-18.3,526,-14.8,513]],
[2,[-16.6,585,-13.1,591,-6.6,636,-4.2,689,-3.9,761,-7.8,817,-13.1,832,-17.8,817,-24.2,722,-24.2,679,-20.1,608]],
[3,[-16.6,637,-11.9,636,-7.8,674,-6.2,761,-9.5,807,-13.1,810,-19.5,761,-20.7,689]],
[4,[-17.2,679,-14.2,671,-9.8,689,-8.1,761,-13.1,789,-17.8,761]],
[5,[-13.1,739,-11.3,763,-13.1,767,-14.9,761]],
[-1,[5.2,503,6.9,541,4.8,567,3.4,531,3.4,511]],
[-1,[46.9,776,48.5,771,50.7,832,49.9,888,46.6,950,44.6,929,42.5,858,44,817],[]],
[-2,[12.8,796,17.5,835,22.8,783,29.9,847,30.2,909,28.1,975,23.4,988,18.1,961,13.4,985,10.5,975,7.5,909,5.2,878,6.9,853]],
[-3,[12.8,854,15.2,898,15.2,934,12.8,945,10.8,898]],
[-3,[22.8,867,25.2,909,23.9,947,21.1,909]]
];
const labelsD=[[-87.7,33,'0.04',-70],[-50.5,138,'0.04',20],[-77,133,'-0.04',0],[-48.4,193,'-0.04',-10],[-24.2,193,'-0.04',80],[43.3,154,'0.04',35],[77.5,74,'-0.04',-50],[53.4,445,'-0.04',-50],[-22.8,393,'0.04',-90],[-17.2,515,'0.04',-55],[6.9,523,'-0.04',85],[-47.2,884,'0.04',0],[49.3,914,'-0.04',-80],[1,952,'-0.04',5]];

const panels=[[contoursA,labelsA],[contoursB,labelsB],[contoursC,labelsC],[contoursD,labelsD]];
const boxes=[[124,41.5,994,858],[1316,41.5,996,858],[124,1070.5,994,858],[1316,1070.5,996,858]];
const FONT='Liberation Serif',SM=0.25,LW=2.3,FS=36;

function toPairs(f){const o=[];for(let i=0;i+1<f.length;i+=2)o.push([f[i],f[i+1]]);return o;}
function colorOf(l){return l<0?negColors[-l]:posColors[l];}
function ringItem(c,api){
  const level=c[0],hasMixed=c.length>2;
  const a=toPairs(c[1]),b=hasMixed?toPairs(c[2]):[];
  const pts=a.concat(b),n=pts.length;
  const px=pts.map(p=>api.coord(p));
  const kids=[{type:'polygon',shape:{points:px,smooth:SM},style:{fill:colorOf(level),stroke:null}}];
  const kinds=[];
  for(let i=0;i<n;i++){
    const j=(i+1)%n;
    let k;
    if(pts[i][1]>=990&&pts[j][1]>=990)k='none';
    else if(level>0)k='solid';
    else if(hasMixed&&i<a.length-1)k='solid';
    else if(hasMixed&&b.length===0)k='solid';
    else k='dash';
    kinds.push(k);
  }
  const st=k=>({fill:'none',stroke:'#000',lineWidth:LW,lineDash:k==='dash'?[8,4]:null,lineJoin:'round'});
  let s=-1;
  for(let i=0;i<n;i++)if(kinds[i]!==kinds[(i+n-1)%n]){s=i;break;}
  if(s<0){kids.push({type:'polygon',shape:{points:px,smooth:SM},style:st(kinds[0])});return kids;}
  let run=[px[s]],cur=kinds[s];
  for(let t=0;t<n;t++){
    const i=(s+t)%n,j=(i+1)%n;
    if(kinds[i]!==cur){
      if(cur!=='none'&&run.length>1)kids.push({type:'polyline',shape:{points:run,smooth:SM},style:st(cur)});
      run=[px[i]];cur=kinds[i];
    }
    run.push(px[j]);
  }
  if(cur!=='none'&&run.length>1)kids.push({type:'polyline',shape:{points:run,smooth:SM},style:st(cur)});
  return kids;
}
function latFmt(v){return v===0?'0°':Math.abs(v)+'°'+(v<0?'S':'N');}

const grid=[],xAxis=[],yAxis=[],series=[],title=[];
boxes.forEach((b,i)=>{
  grid.push({left:b[0],top:b[1],width:b[2],height:b[3],show:true,borderColor:'#000',borderWidth:1.3,backgroundColor:'transparent'});
  xAxis.push({type:'value',gridIndex:i,min:-90,max:90,z:3,
    name:'latitude',nameLocation:'middle',nameGap:43,nameTextStyle:{fontFamily:FONT,fontSize:FS,color:'#000'},
    axisLine:{onZero:false,lineStyle:{color:'#000',width:1.3}},
    axisTick:{show:true,length:5,customValues:latTicks,lineStyle:{color:'#000',width:1}},
    axisLabel:{show:true,customValues:latTicks,formatter:latFmt,fontFamily:FONT,fontSize:FS,color:'#000',margin:8,hideOverlap:false},
    splitLine:{show:true,lineStyle:{color:'#b0b0b0',width:1.1}}});
  yAxis.push({type:'value',gridIndex:i,min:0,max:1000,interval:200,inverse:true,z:3,
    name:'hPa',nameLocation:'middle',nameRotate:90,nameGap:79,nameTextStyle:{fontFamily:FONT,fontSize:FS,color:'#000'},
    axisLine:{onZero:false,lineStyle:{color:'#000',width:1.3}},
    axisTick:{show:true,length:5,lineStyle:{color:'#000',width:1}},
    axisLabel:{fontFamily:FONT,fontSize:FS,color:'#000',margin:7,formatter:v=>String(v)},
    splitLine:{show:true,lineStyle:{color:'#b0b0b0',width:1.1}}});
  const cs=panels[i][0],ls=panels[i][1];
  series.push({type:'custom',xAxisIndex:i,yAxisIndex:i,z:2,silent:true,clip:true,animation:false,
    data:cs.map((c,k)=>[k]),encode:{x:0},
    renderItem:(p,api)=>({type:'group',children:ringItem(cs[p.dataIndex],api)})});
  series.push({type:'custom',xAxisIndex:i,yAxisIndex:i,z:4,silent:true,clip:false,animation:false,
    data:ls.map((c,k)=>[k]),encode:{x:0},
    renderItem:(p,api)=>{const l=ls[p.dataIndex],q=api.coord([l[0],l[1]]);
      return {type:'text',x:q[0],y:q[1],rotation:l[3]*Math.PI/180,
        style:{text:l[2],fill:'#1a1a1a',font:'20.5px "'+FONT+'"',textAlign:'center',textVerticalAlign:'middle'}};}});
  title.push({text:titles[i],right:2321-b[0]-b[2],top:i<2?6:b[1]-34,padding:0,textStyle:{fontFamily:FONT,fontSize:34.3,fontWeight:'normal',color:'#000'}});
});
// colour bar
grid.push({left:1362,top:2009,width:905,height:86,show:false});
xAxis.push({type:'value',gridIndex:4,min:-0.5,max:0.5,interval:0.125,z:3,
  name:'{a|m s}{b|−1}',nameLocation:'middle',nameGap:52,
  nameTextStyle:{rich:{a:{fontFamily:FONT,fontSize:35,color:'#000',padding:[10,0,0,0]},b:{fontFamily:FONT,fontSize:25,color:'#000',padding:[0,0,12,3]}}},
  axisLine:{show:false},axisTick:{show:true,length:5,lineStyle:{color:'#000',width:1}},splitLine:{show:false},
  axisLabel:{fontFamily:FONT,fontSize:35,color:'#000',margin:12,hideOverlap:false,formatter:v=>(v<0?'−':'')+Math.abs(v).toFixed(3)}});
yAxis.push({type:'value',gridIndex:4,min:0,max:1,show:false});
series.push({type:'custom',xAxisIndex:4,yAxisIndex:4,z:2,silent:true,clip:false,animation:false,
  data:cbColors.map((c,k)=>[k]),encode:{x:0},
  renderItem:(p,api)=>{const k=p.dataIndex,a=api.coord([cbLevels[k],1]),b=api.coord([cbLevels[k+1],0]);
    return {type:'rect',shape:{x:a[0],y:a[1],width:b[0]-a[0]+0.5,height:b[1]-a[1]},style:{fill:cbColors[k]}};}});
const cbEnds=[[-0.5,-0.55,'#313695'],[0.5,0.55,'#a50026']];
series.push({type:'custom',xAxisIndex:4,yAxisIndex:4,z:3,silent:true,clip:false,animation:false,
  data:cbEnds.map((c,k)=>[k]),encode:{x:0},
  renderItem:(p,api)=>{const e=cbEnds[p.dataIndex];
    return {type:'polygon',shape:{points:[api.coord([e[0],1]),api.coord([e[1],0.5]),api.coord([e[0],0])]},style:{fill:e[2],stroke:'#222',lineWidth:1}};}});
const cbFrame=[[-0.5,1],[0.5,1],[0.5,0],[-0.5,0]];
series.push({type:'custom',xAxisIndex:4,yAxisIndex:4,z:4,silent:true,clip:false,animation:false,
  data:[[0]],encode:{x:0},
  renderItem:(p,api)=>({type:'group',children:[
    {type:'line',shape:{x1:api.coord(cbFrame[0])[0],y1:api.coord(cbFrame[0])[1],x2:api.coord(cbFrame[1])[0],y2:api.coord(cbFrame[1])[1]},style:{stroke:'#333',lineWidth:1}},
    {type:'line',shape:{x1:api.coord(cbFrame[3])[0],y1:api.coord(cbFrame[3])[1],x2:api.coord(cbFrame[2])[0],y2:api.coord(cbFrame[2])[1]},style:{stroke:'#333',lineWidth:1}}]})});

const chart=echarts.init(document.getElementById('c'),null,{renderer:'canvas',width:2321,height:2188});
chart.setOption({animation:false,backgroundColor:'#fff',title,grid,xAxis,yAxis,series,tooltip:{show:false}});
</script></body></html>
